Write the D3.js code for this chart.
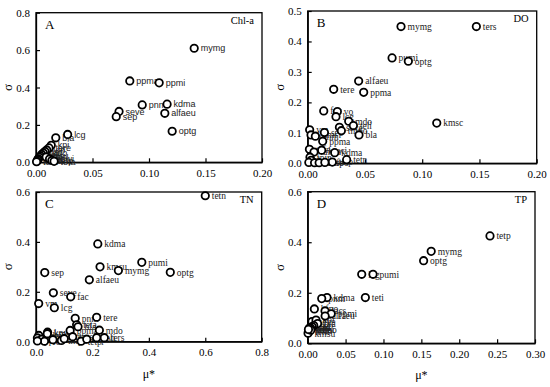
<!DOCTYPE html>
<html>
<head>
  <meta charset="utf-8">
  <title>Morris screening</title>
  <script src="https://d3js.org/d3.v7.min.js"></script>
  <style>
    body { margin: 0; background: #fff; }
    svg { display: block; }
    .tick text { font-family: "Liberation Serif", "Times New Roman", serif; font-size: 11px; }
    .pt { fill: #fff; stroke: #000; stroke-width: 1.8px; }
  </style>
</head>
<body>
<svg width="550" height="387"></svg>
<script>
  // panel A: Chl-a
  const chlNames = ['mymg', 'ppma', 'ppmi', 'pnm', 'kdma', 'seve', 'sep', 'alfaeu', 'optg', 'lcg', 'bla', 'kpi',
    'tere', 'vm', 'fac', 'mdo', 'teli', 'kmsu', 'tetn', 'tmpo', 'kdmi', 'lacs', 'tefn', 'fpin', 'kpwi', 'tetp', 'teta'];
  const chlMu = [0.140, 0.083, 0.109, 0.094, 0.116, 0.0735, 0.071, 0.114, 0.1205, 0.028, 0.0175, 0.0135,
    0.0115, 0.0095, 0.008, 0.0065, 0.005, 0.004, 0.003, 0.002, 0.0015, 0.001, 0.0005, 0.009, 0.012, 0.014, 0.016];
  const chlSigma = [0.61, 0.435, 0.425, 0.307, 0.311, 0.272, 0.244, 0.262, 0.166, 0.149, 0.131, 0.091,
    0.077, 0.066, 0.058, 0.050, 0.042, 0.034, 0.027, 0.019, 0.013, 0.007, 0.003, 0.028, 0.018, 0.010, 0.005];

  // panel B: DO
  const doNames = ['mymg', 'ters', 'pumi', 'optg', 'alfaeu', 'tere', 'ppma', 'fac', 'vo', 'lcg', 'mdo', 'teli',
    'kmsc', 'seve', 'tmpo', 'bla', 'vm', 'sep', 'kdmi', 'pnm', 'ppma', 'kdma', 'kpwi', 'tefn', 'kmsu', 'tetn',
    'tetp', 'fpin', 'kpi', 'lacs', 'teta', 'tmsc', 'kfpo'];
  const doMu = [0.0815, 0.1473, 0.0737, 0.0879, 0.0445, 0.0227, 0.0489, 0.014, 0.0259, 0.0247, 0.0358, 0.0399,
    0.1127, 0.0277, 0.0294, 0.0448, 0.0017, 0.0146, 0.0029, 0.0067, 0.0131, 0.0236, 0.0122, 0.0015, 0.0055, 0.034,
    0.0215, 0.002, 0.003, 0.001, 0.006, 0.010, 0.015];
  const doSigma = [0.449, 0.449, 0.346, 0.335, 0.270, 0.243, 0.233, 0.172, 0.170, 0.153, 0.138, 0.124,
    0.132, 0.118, 0.107, 0.093, 0.110, 0.101, 0.093, 0.089, 0.072, 0.035, 0.043, 0.046, 0.037, 0.012,
    0.004, 0.020, 0.010, 0.003, 0.002, 0.002, 0.003];

  // panel C: TN
  const tnNames = ['tetn', 'kdma', 'pumi', 'kmsu', 'mymg', 'optg', 'sep', 'alfaeu', 'seve', 'fac', 'vm', 'lcg',
    'pnm', 'tere', 'teta', 'bla', 'ppma', 'mdo', 'kpwi', 'kmsc', 'ters', 'teli',
    'kdmi', 'fpin', 'kpi', 'lacs', 'tmpo', 'tefn', 'tmsc', 'tetp', 'kfpo', 'vo', 'ppmi'];
  const tnMu = [0.600, 0.219, 0.375, 0.227, 0.292, 0.476, 0.031, 0.189, 0.0615, 0.123, 0.0095, 0.065,
    0.139, 0.215, 0.144, 0.149, 0.121, 0.2246, 0.041, 0.040, 0.242, 0.215,
    0.010, 0.005, 0.020, 0.060, 0.090, 0.100, 0.130, 0.160, 0.180, 0.030, 0.005];
  const tnSigma = [0.585, 0.392, 0.318, 0.300, 0.285, 0.278, 0.277, 0.248, 0.196, 0.180, 0.153, 0.136,
    0.094, 0.098, 0.068, 0.060, 0.045, 0.046, 0.038, 0.032, 0.016, 0.016,
    0.025, 0.015, 0.010, 0.008, 0.005, 0.012, 0.020, 0.002, 0.010, 0.002, 0.003];

  // panel D: TP
  const tpNames = ['tetp', 'mymg', 'optg', 'lcg', 'pumi', 'teti', 'kdma', 'pnm', 'kfpo', 'lacs', 'ppmi', 'alfaeu',
    'seve', 'kpi', 'bla', 'sep', 'fac', 'vm', 'tere', 'mdo', 'teli', 'kmsu', 'tefn', 'tmpo', 'kdmi'];
  const tpMu = [0.2406, 0.163, 0.153, 0.0713, 0.0862, 0.0761, 0.0255, 0.0185, 0.0088, 0.0229, 0.031, 0.023,
    0.0057, 0.011, 0.013, 0.008, 0.006, 0.004, 0.003, 0.002, 0.001, 0.0005, 0.002, 0.004, 0.001];
  const tpSigma = [0.425, 0.364, 0.327, 0.273, 0.273, 0.181, 0.181, 0.177, 0.136, 0.128, 0.117, 0.108,
    0.086, 0.092, 0.078, 0.070, 0.065, 0.060, 0.055, 0.050, 0.045, 0.040, 0.060, 0.052, 0.055];

  const panels = [
    { letter: 'A', title: 'Chl-a', names: chlNames, mu: chlMu, sigma: chlSigma,
      xMax: 0.2, xTicks: [0, 0.05, 0.1, 0.15, 0.2], xFmt: '.2f',
      yMax: 0.8, yTicks: [0, 0.2, 0.4, 0.6, 0.8], yFmt: '.1f',
      box: [36, 262, 12.7, 162.3], sans: true, xLabel: false },
    { letter: 'B', title: 'DO', names: doNames, mu: doMu, sigma: doSigma,
      xMax: 0.2, xTicks: [0, 0.05, 0.1, 0.15, 0.2], xFmt: '.2f',
      yMax: 0.5, yTicks: [0, 0.1, 0.2, 0.3, 0.4, 0.5], yFmt: '.1f',
      box: [307.7, 536.7, 11, 163.3], sans: false, xLabel: false },
    { letter: 'C', title: 'TN', names: tnNames, mu: tnMu, sigma: tnSigma,
      xMax: 0.8, xTicks: [0, 0.2, 0.4, 0.6, 0.8], xFmt: '.1f',
      yMax: 0.6, yTicks: [0, 0.2, 0.4, 0.6], yFmt: '.1f',
      box: [36, 261.7, 192, 341.7], sans: false, xLabel: true },
    { letter: 'D', title: 'TP', names: tpNames, mu: tpMu, sigma: tpSigma,
      xMax: 0.3, xTicks: [0, 0.05, 0.1, 0.15, 0.2, 0.25, 0.3], xFmt: '.2f',
      yMax: 0.6, yTicks: [0, 0.2, 0.4, 0.6], yFmt: '.1f',
      box: [307.7, 535, 191.7, 343.3], sans: false, xLabel: true }
  ];

  const svg = d3.select('svg');
  const serif = '"Liberation Serif", "Times New Roman", serif';
  const sans = '"Liberation Sans", Arial, sans-serif';

  panels.forEach(p => {
    const [x0, x1, y0, y1] = p.box;
    const x = d3.scaleLinear().domain([0, p.xMax]).range([x0, x1]);
    const y = d3.scaleLinear().domain([0, p.yMax]).range([y1, y0]);
    const g = svg.append('g');

    // frame
    g.append('rect')
      .attr('x', x0).attr('y', y0)
      .attr('width', x1 - x0).attr('height', y1 - y0)
      .attr('fill', 'none').attr('stroke', '#000').attr('stroke-width', 1.3);

    const xAxis = g.append('g')
      .attr('transform', `translate(0,${y1})`)
      .call(d3.axisBottom(x).tickValues(p.xTicks).tickFormat(d3.format(p.xFmt))
        .tickSizeInner(-4).tickSizeOuter(0).tickPadding(7));
    const yAxis = g.append('g')
      .attr('transform', `translate(${x0},0)`)
      .call(d3.axisLeft(y).tickValues(p.yTicks).tickFormat(d3.format(p.yFmt))
        .tickSizeInner(-4).tickSizeOuter(0).tickPadding(6));
    [xAxis, yAxis].forEach(a => {
      a.select('.domain').attr('stroke-width', 1.3);
      a.selectAll('.tick line').attr('stroke-width', 1.2);
      a.selectAll('.tick text').attr('fill', '#000');
    });

    // points
    const pts = p.names.map((n, i) => ({ name: n, mu: p.mu[i], sigma: p.sigma[i] }));
    g.append('g').selectAll('text')
      .data(pts)
      .join('text')
      .attr('x', d => x(d.mu) + 6.5)
      .attr('y', d => y(d.sigma))
      .attr('dy', '0.35em')
      .attr('font-family', p.sans ? sans : serif)
      .attr('font-size', p.sans ? 9 : 9.5)
      .attr('fill', '#222')
      .text(d => d.name);
    g.append('g').selectAll('circle')
      .data(pts)
      .join('circle')
      .attr('class', 'pt')
      .attr('cx', d => x(d.mu))
      .attr('cy', d => y(d.sigma))
      .attr('r', 3.7);

    // panel letter and variable
    g.append('text')
      .attr('x', x0 + 9).attr('y', y0 + 16)
      .attr('font-family', serif).attr('font-size', 13)
      .text(p.letter);
    g.append('text')
      .attr('x', x1 - 8).attr('y', y0 + 11)
      .attr('text-anchor', 'end')
      .attr('font-family', serif).attr('font-size', 10.5)
      .text(p.title);

    // axis titles
    g.append('text')
      .attr('transform', `translate(${x0 - 24},${(y0 + y1) / 2}) rotate(-90)`)
      .attr('text-anchor', 'middle')
      .attr('font-family', serif).attr('font-size', 13)
      .text('σ');
    if (p.xLabel) {
      g.append('text')
        .attr('x', (x0 + x1) / 2).attr('y', y1 + 36)
        .attr('text-anchor', 'middle')
        .attr('font-family', serif).attr('font-size', 12)
        .text('μ*');
    }
  });
</script>
</body>
</html>
